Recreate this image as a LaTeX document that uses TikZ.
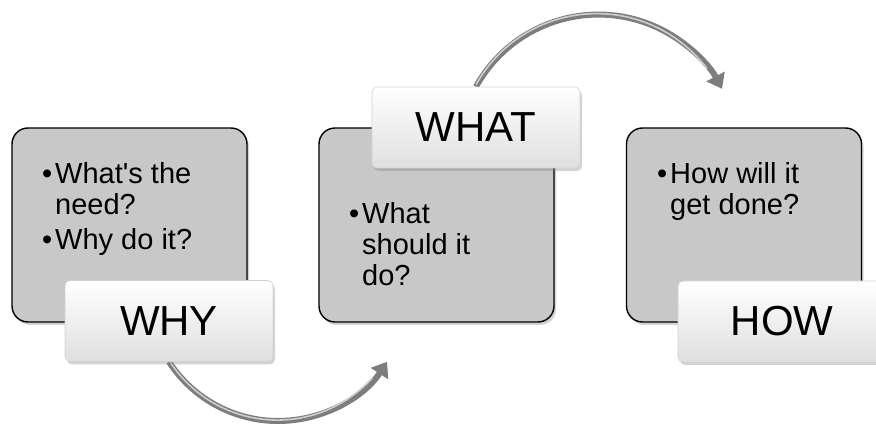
\documentclass[tikz,border=0pt]{standalone}
\usepackage{fontspec}
\setmainfont{Liberation Sans}
\usetikzlibrary{shadows,arrows.meta}
\pgfdeclarelayer{bg}
\pgfsetlayers{bg,main}
\definecolor{boxgray}{RGB}{200,200,200}
\definecolor{arrgray}{RGB}{125,125,125}
\definecolor{arrlight}{RGB}{205,205,205}
\tikzset{
  graybox/.style={draw=black, line width=1.4pt, fill=boxgray, rounded corners=16pt,
    minimum width=235pt, minimum height=194pt, inner sep=0pt,
    drop shadow={shadow xshift=2pt, shadow yshift=-3pt, opacity=0.35}},
  labelbox/.style={draw=gray!35, line width=0.6pt, top color=white, bottom color=gray!25,
    rounded corners=5pt, minimum width=208pt, minimum height=81pt, inner sep=0pt,
    font=\fontsize{42}{48}\selectfont,
    drop shadow={shadow xshift=2pt, shadow yshift=-3pt, opacity=0.35}},
  bullettext/.style={anchor=north west, inner sep=0pt, align=left,
    font=\fontsize{29}{31}\selectfont},
  curvearrow/.style={draw=arrgray, line width=6pt,
    -{Triangle[length=14pt,width=20pt]}},
  curvehi/.style={draw=arrlight, line width=1.6pt}
}
\newcommand{\bul}{\llap{\textbullet\hspace{3pt}}}
\begin{document}
\begin{tikzpicture}[x=1pt,y=1pt]
\useasboundingbox (0,0) rectangle (876,-430);
% gray boxes
\node[graybox] (b1) at (129.5,-225) {};
\node[graybox] (b2) at (436.5,-225) {};
\node[graybox] (b3) at (744,-225) {};
% texts
\node[bullettext] (t1) at (55,-162) {\bul What\textquotesingle s the\\need?\\[4pt]\bul Why do it?};
\node[bullettext] (t2) at (362,-202) {\bul What\\should it\\do?};
\node[bullettext] (t3) at (670,-162) {\bul How will it\\get done?};
% labels
\node[labelbox] (why) at (169,-321) {WHY};
\node[labelbox] (what) at (476,-127.5) {WHAT};
\node[labelbox] (how) at (782,-321.5) {HOW};
% arrows
\begin{pgfonlayer}{bg}
\draw[curvearrow] (why.south) arc[start angle=213, end angle=327, radius=130];
\draw[curvehi] ([xshift=1pt]why.south) arc[start angle=213, end angle=318, radius=128];
\draw[curvearrow] (what.north) arc[start angle=151, end angle=28, radius=140];
\draw[curvehi] ([yshift=2pt]what.north) arc[start angle=151, end angle=37, radius=138];
\end{pgfonlayer}
\end{tikzpicture}
\end{document}
